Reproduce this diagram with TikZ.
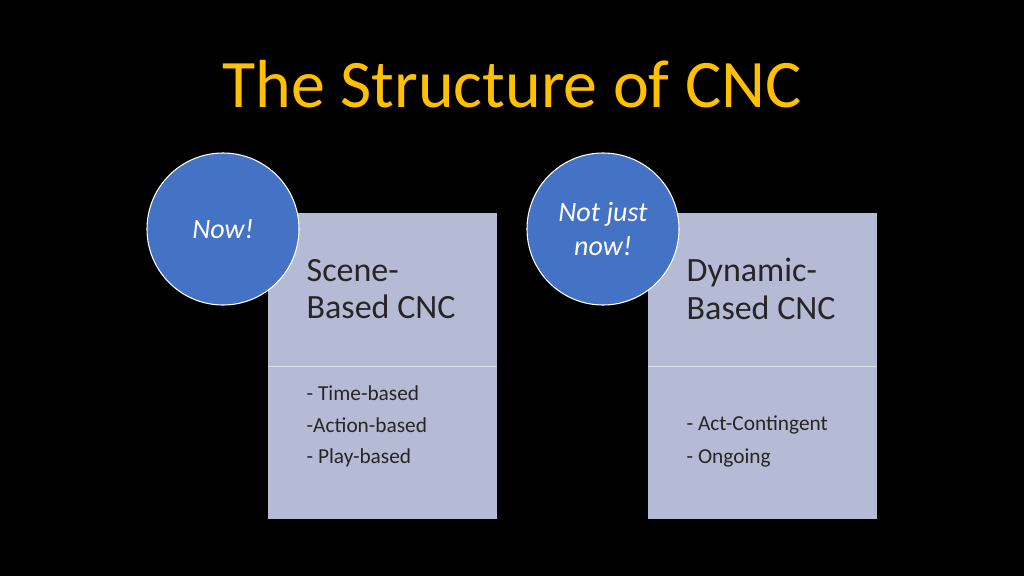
\documentclass[tikz,border=0pt]{standalone}
\usepackage{fontspec}
\setmainfont{Carlito}
\definecolor{titleY}{HTML}{FFC000}
\definecolor{boxF}{HTML}{B5BAD5}
\definecolor{circF}{HTML}{4472C4}
\begin{document}
\begin{tikzpicture}[x=0.75pt,y=-0.75pt,
  panel/.style={fill=boxF,draw=none},
  badge/.style={circle,fill=circF,draw=white,line width=0.8pt,minimum size=114pt,inner sep=0pt,text=white,font=\fontsize{21}{25}\selectfont\itshape,align=center},
  head/.style={anchor=west,align=left,font=\fontsize{25.5}{28}\selectfont,text=black!85},
  item/.style={anchor=west,font=\fontsize{16}{17}\selectfont,text=black!85}]
\fill[black] (0,0) rectangle (1024,576);
\useasboundingbox (0,0) rectangle (1024,576);
\node[text=titleY,font=\fontsize{51}{56}\selectfont] (title) at (512,84) {The Structure of CNC};
% left panel
\fill[panel] (268,213) rectangle (497,519);
\draw[white!50!boxF,line width=0.6pt] (268,366) -- (497,366);
\node[head] (lh) at (302,289) {Scene-\\Based CNC};
\node[item] (l1) at (302,393) {- Time-based};
\node[item] (l2) at (302,425) {-Action-based};
\node[item] (l3) at (302,458) {- Play-based};
% right panel
\fill[panel] (648,213) rectangle (877,519);
\draw[white!50!boxF,line width=0.6pt] (648,366) -- (877,366);
\node[head] (rh) at (682,289) {Dynamic-\\Based CNC};
\node[item] (r1) at (682,425) {- Act-Contingent};
\node[item] (r2) at (682,458) {- Ongoing};
% badges
\node[badge] (c1) at (223,229) {Now!};
\node[badge] (c2) at (603,229) {Not just\\now!};
\end{tikzpicture}
\end{document}
